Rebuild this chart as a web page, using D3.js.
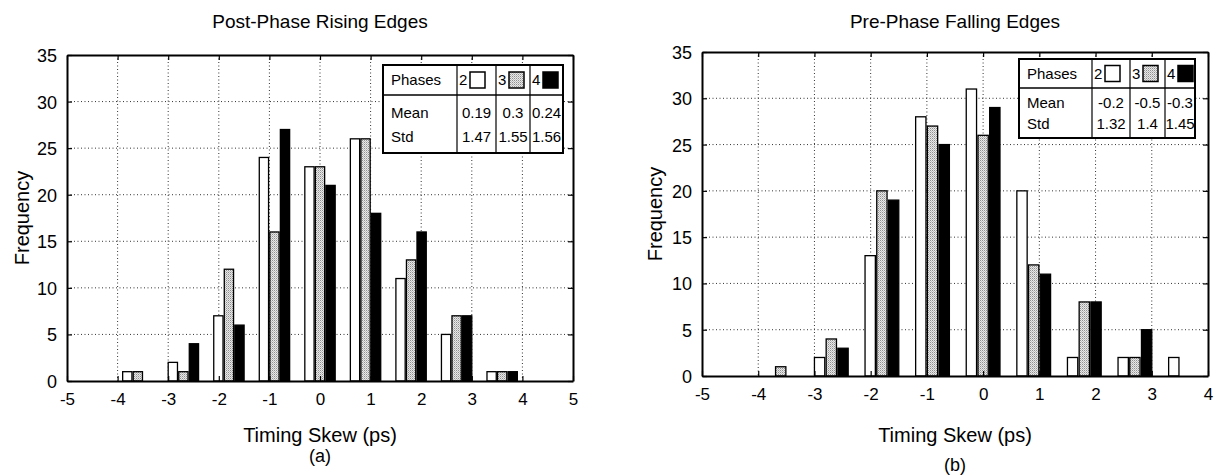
<!DOCTYPE html>
<html>
<head>
<meta charset="utf-8">
<script src="https://cdn.jsdelivr.net/npm/d3@7"></script>
<style>
  body { margin: 0; background: #fff; }
  text { font-family: "Liberation Sans", Arial, sans-serif; fill: #000; }
</style>
</head>
<body>
<div id="graph"></div>
<script>
//histogram bin centres (ps) and the three phase series
const binCenters = [-3.6, -2.7, -1.8, -0.9, 0, 0.9, 1.8, 2.7, 3.6];
const phases = ["2", "3", "4"];

//post-phase rising edges
const risingPhase2 = [1, 2, 7, 24, 23, 26, 11, 5, 1];
const risingPhase3 = [1, 1, 12, 16, 23, 26, 13, 7, 1];
const risingPhase4 = [0, 4, 6, 27, 21, 18, 16, 7, 1];
const risingMean = ["0.19", "0.3", "0.24"];
const risingStd = ["1.47", "1.55", "1.56"];

//pre-phase falling edges
const fallingPhase2 = [0, 2, 13, 28, 31, 20, 2, 2, 2];
const fallingPhase3 = [1, 4, 20, 27, 26, 12, 8, 2, 0];
const fallingPhase4 = [0, 3, 19, 25, 29, 11, 8, 5, 0];
const fallingMean = ["-0.2", "-0.5", "-0.3"];
const fallingStd = ["1.32", "1.4", "1.45"];

//tick labels
const xTicksRising = [-5, -4, -3, -2, -1, 0, 1, 2, 3, 4, 5];
const xTicksFalling = [-5, -4, -3, -2, -1, 0, 1, 2, 3, 4];
const yTicks = [0, 5, 10, 15, 20, 25, 30, 35];

let svg = d3
  .select("#graph")
  .append("svg")
  .attr("width", 1215)
  .attr("height", 475);

//stippled grey like the printed bars
let defs = svg.append("defs");
let pat = defs
  .append("pattern")
  .attr("id", "stipple")
  .attr("width", 2)
  .attr("height", 2)
  .attr("patternUnits", "userSpaceOnUse");
pat.append("rect").attr("width", 2).attr("height", 2).attr("fill", "#e8e8e8");
pat.append("rect").attr("width", 1).attr("height", 1).attr("fill", "#909090");
pat.append("rect").attr("x", 1).attr("y", 1).attr("width", 1).attr("height", 1).attr("fill", "#bdbdbd");

const fills = { 2: "#ffffff", 3: "url(#stipple)", 4: "#000000" };

drawPanel({
  left: 67, right: 573, top: 55, bottom: 381,
  xDomain: [-5, 5], xTicks: xTicksRising,
  title: "Post-Phase Rising Edges", sub: "(a)", subY: 462, yLabelX: 22,
  series: [risingPhase2, risingPhase3, risingPhase4],
  mean: risingMean, std: risingStd,
  table: { x: 383, y: 65, cols: [74, 39, 34, 33], head: 30, h: 88 },
});

drawPanel({
  left: 702, right: 1208, top: 52, bottom: 376,
  xDomain: [-5, 4], xTicks: xTicksFalling,
  title: "Pre-Phase Falling Edges", sub: "(b)", subY: 471, yLabelX: 655,
  series: [fallingPhase2, fallingPhase3, fallingPhase4],
  mean: fallingMean, std: fallingStd,
  table: { x: 1019, y: 59, cols: [73, 38, 35, 30], head: 29, h: 79 },
});

function drawPanel(o) {
  let g = svg.append("g");
  let x = d3.scaleLinear().domain(o.xDomain).range([o.left, o.right]);
  let y = d3.scaleLinear().domain([0, 35]).range([o.bottom, o.top]);

  //grouped bar offsets inside each bin
  let groupW = x(0.6) - x(0);
  let x1 = d3
    .scaleBand()
    .domain(phases)
    .range([-groupW / 2, groupW / 2])
    .paddingInner(0.12);

  //dotted grid
  g.append("g")
    .selectAll("line")
    .data(o.xTicks.slice(1, -1))
    .enter()
    .append("line")
    .attr("x1", (d) => x(d))
    .attr("x2", (d) => x(d))
    .attr("y1", o.top)
    .attr("y2", o.bottom)
    .attr("stroke", "#333")
    .attr("stroke-width", 1)
    .attr("stroke-dasharray", "1,2.5");
  g.append("g")
    .selectAll("line")
    .data(yTicks.slice(1, -1))
    .enter()
    .append("line")
    .attr("x1", o.left)
    .attr("x2", o.right)
    .attr("y1", (d) => y(d))
    .attr("y2", (d) => y(d))
    .attr("stroke", "#333")
    .attr("stroke-width", 1)
    .attr("stroke-dasharray", "1,2.5");

  //bars, one group per phase
  let rows = [];
  o.series.forEach((vals, i) => {
    vals.forEach((v, j) => {
      rows.push({ phase: phases[i], c: binCenters[j], v: v });
    });
  });
  g.append("g")
    .selectAll("rect")
    .data(rows)
    .enter()
    .append("rect")
    .attr("x", (d) => x(d.c) + x1(d.phase))
    .attr("y", (d) => y(d.v))
    .attr("width", x1.bandwidth())
    .attr("height", (d) => y(0) - y(d.v))
    .attr("fill", (d) => fills[d.phase])
    .attr("stroke", "#000")
    .attr("stroke-width", 1.3);

  //axes: bottom/left with labels, top/right with inward ticks only
  let plain = (d) => String(d);
  let bottomAx = g
    .append("g")
    .attr("transform", "translate(0," + o.bottom + ")")
    .call(d3.axisBottom(x).tickValues(o.xTicks).tickSizeInner(-5).tickSizeOuter(0).tickPadding(12).tickFormat(plain));
  let leftAx = g
    .append("g")
    .attr("transform", "translate(" + o.left + ",0)")
    .call(d3.axisLeft(y).tickValues(yTicks).tickSizeInner(-5).tickSizeOuter(0).tickPadding(10).tickFormat(plain));
  g.append("g")
    .attr("transform", "translate(0," + o.top + ")")
    .call(d3.axisTop(x).tickValues(o.xTicks).tickSizeInner(-5).tickSizeOuter(0).tickFormat(""));
  g.append("g")
    .attr("transform", "translate(" + o.right + ",0)")
    .call(d3.axisRight(y).tickValues(yTicks).tickSizeInner(-5).tickSizeOuter(0).tickFormat(""));
  g.selectAll(".domain").attr("stroke", "#000").attr("stroke-width", 2);
  g.selectAll(".tick line").attr("stroke", "#000").attr("stroke-width", 1.2);
  bottomAx.selectAll("text").style("font-size", "17px").attr("font-family", null);
  leftAx.selectAll("text").style("font-size", "18px").attr("font-family", null).attr("dy", "0.36em");

  //titles
  let cx = (o.left + o.right) / 2;
  g.append("text")
    .attr("x", cx)
    .attr("y", 28)
    .attr("text-anchor", "middle")
    .style("font-size", "19px")
    .text(o.title);
  g.append("text")
    .attr("x", cx)
    .attr("y", 442)
    .attr("text-anchor", "middle")
    .style("font-size", "20px")
    .text("Timing Skew (ps)");
  g.append("text")
    .attr("x", cx)
    .attr("y", o.subY)
    .attr("text-anchor", "middle")
    .style("font-size", "18px")
    .text(o.sub);
  g.append("text")
    .attr("transform", "translate(" + o.yLabelX + "," + (o.top + o.bottom) / 2 + ") rotate(-90)")
    .attr("text-anchor", "middle")
    .attr("dy", "0.35em")
    .style("font-size", "20px")
    .text("Frequency");

  drawTable(g, o.table, o.mean, o.std);
}

//the little stats box in the corner
function drawTable(g, t, mean, std) {
  let colX = [t.x];
  t.cols.forEach((w) => colX.push(colX[colX.length - 1] + w));
  let right = colX[colX.length - 1];
  let tg = g.append("g");
  tg.append("rect")
    .attr("x", t.x)
    .attr("y", t.y)
    .attr("width", right - t.x)
    .attr("height", t.h)
    .attr("fill", "#fff")
    .attr("stroke", "#000")
    .attr("stroke-width", 2);
  tg.append("line")
    .attr("x1", t.x)
    .attr("x2", right)
    .attr("y1", t.y + t.head)
    .attr("y2", t.y + t.head)
    .attr("stroke", "#000")
    .attr("stroke-width", 1.5);
  tg.selectAll(".col")
    .data(colX.slice(1, -1))
    .enter()
    .append("line")
    .attr("x1", (d) => d)
    .attr("x2", (d) => d)
    .attr("y1", t.y)
    .attr("y2", t.y + t.h)
    .attr("stroke", "#000")
    .attr("stroke-width", 1.2);

  let bodyH = t.h - t.head;
  let rowY = [t.y + t.head / 2, t.y + t.head + bodyH * 0.3, t.y + t.head + bodyH * 0.72];
  [["Phases", null], ["Mean", mean], ["Std", std]].forEach((r, i) => {
    tg.append("text")
      .attr("x", t.x + 8)
      .attr("y", rowY[i])
      .attr("dy", "0.36em")
      .style("font-size", "15px")
      .text(r[0]);
    if (r[1]) {
      r[1].forEach((v, k) => {
        tg.append("text")
          .attr("x", (colX[k + 1] + colX[k + 2]) / 2)
          .attr("y", rowY[i])
          .attr("dy", "0.36em")
          .attr("text-anchor", "middle")
          .style("font-size", "15px")
          .text(v);
      });
    }
  });

  //phase header: number plus swatch
  phases.forEach((p, k) => {
    let x0 = colX[k + 1];
    tg.append("text")
      .attr("x", x0 + 2)
      .attr("y", rowY[0])
      .attr("dy", "0.36em")
      .style("font-size", "15px")
      .text(p);
    tg.append("rect")
      .attr("x", x0 + 13)
      .attr("y", rowY[0] - 8)
      .attr("width", 15)
      .attr("height", 16)
      .attr("fill", fills[p])
      .attr("stroke", "#000")
      .attr("stroke-width", 1.5);
  });
}
</script>
</body>
</html>
